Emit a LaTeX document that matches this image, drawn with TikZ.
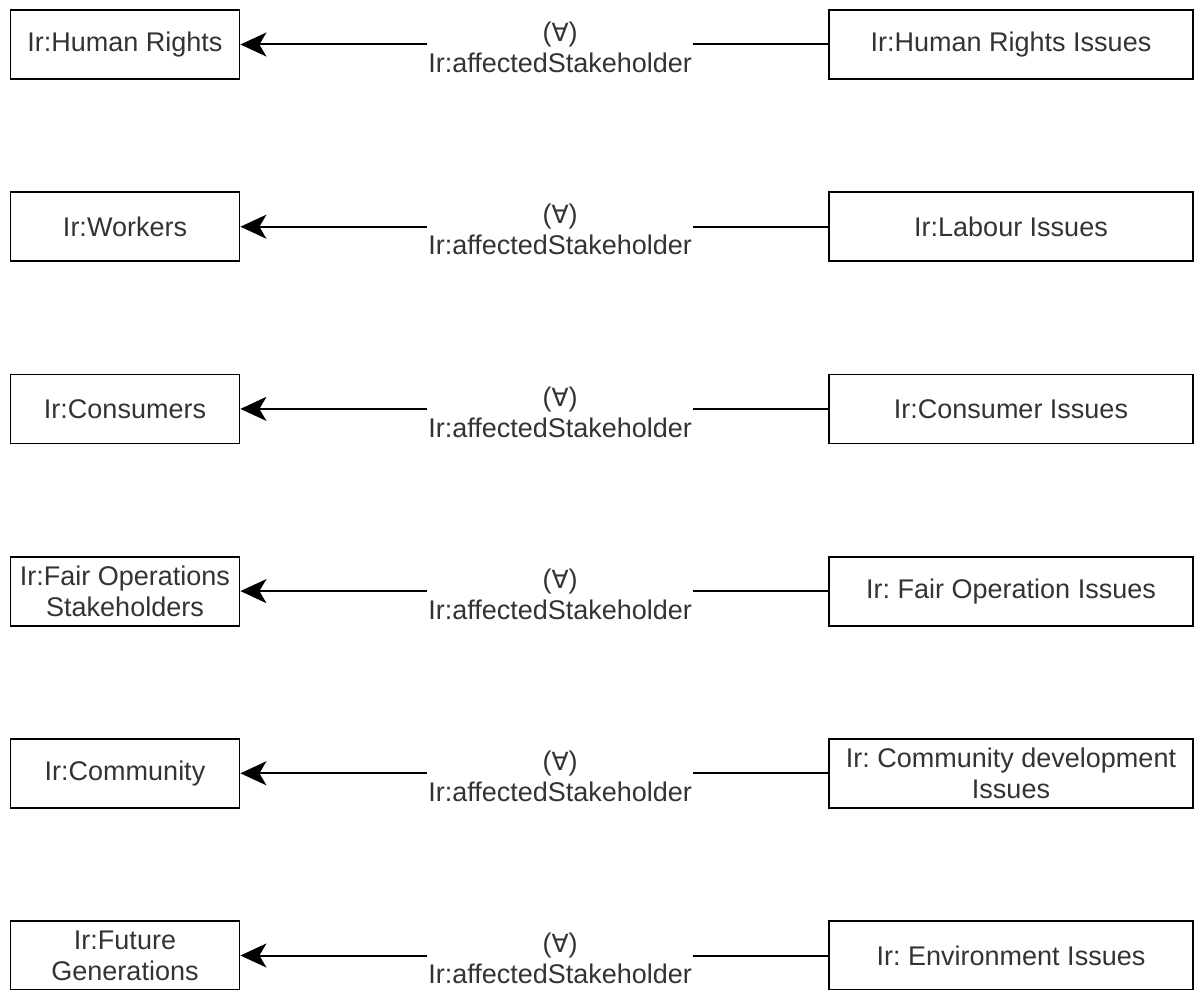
\documentclass[tikz,border=0pt]{standalone}
\usepackage{fontspec}
\setmainfont{Liberation Sans}
\newfontfamily\symfont{DejaVu Sans}
\usetikzlibrary{arrows.meta}
\frenchspacing

\tikzset{
  box/.style={draw=black, line width=1.8pt, minimum height=69pt, align=center,
    inner sep=0pt, text=black!80, font=\fontsize{27}{31}\selectfont},
  leftbox/.style={box, minimum width=229pt},
  rightbox/.style={box, minimum width=364pt},
  rel/.style={line width=2pt, -{Stealth[length=26pt,width=24pt,inset=7pt]}},
  rellabel/.style={fill=white, inner xsep=1pt, inner ysep=0pt, align=center,
    text=black!80, font=\fontsize{27}{31}\selectfont, yshift=-3pt},
}

\begin{document}
\begin{tikzpicture}[x=1pt, y=-1pt]
  \useasboundingbox (0,0) rectangle (1194,990);
  \foreach \i/\yy/\lt/\rt in {
      1/44.5/{Ir:Human Rights}/{Ir:Human Rights Issues},
      2/226.7/{Ir:Workers}/{Ir:Labour Issues},
      3/408.9/{Ir:Consumers}/{Ir:Consumer Issues},
      4/591.1/{Ir:Fair Operations\\Stakeholders}/{Ir: Fair Operation Issues},
      5/773.3/{Ir:Community}/{Ir: Community development\\Issues},
      6/955.5/{Ir:Future\\Generations}/{Ir: Environment Issues}} {
    \node[leftbox] (l\i) at (125,\yy) {\lt};
    \node[rightbox] (r\i) at (1011,\yy) {\rt};
    \draw[rel] (r\i.west) -- node[rellabel, pos=0.456]
      {({\symfont\fontsize{25}{31}\selectfont ∀})\\Ir:affectedStakeholder} (l\i.east);
  }
\end{tikzpicture}
\end{document}
